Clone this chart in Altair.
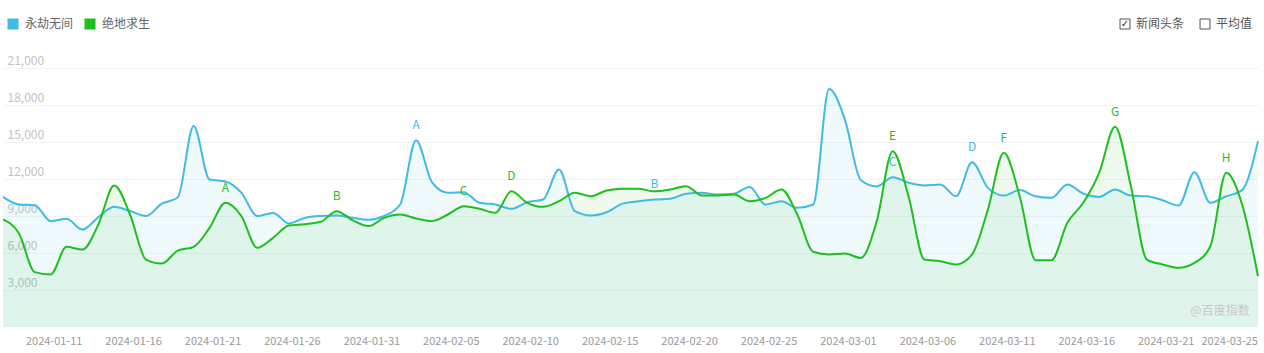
import altair as alt
import pandas as pd

FONT = "Noto Sans CJK SC"

series_names = ["永劫无间", "绝地求生"]
series_colors = ["#3fbbe4", "#1fbf1f"]

dates = [d.strftime("%Y-%m-%d") for d in pd.date_range("2024-01-08", "2024-03-27", freq="D")]

blue = [10550, 9930, 9880, 8580, 8770, 7900, 8900, 9740, 9400, 9000,
        10000, 10500, 16300, 11960, 11800, 10900, 9000, 9250, 8400, 8850,
        9000, 9040, 8850, 8700, 9000, 9930, 15150, 11740, 10880, 10930,
        10070, 9930, 9580, 10120, 10340, 12770, 9390, 9040, 9300, 10000,
        10200, 10340, 10400, 10800, 10880, 10740, 10800, 11360, 9930, 10200,
        9660, 9930, 19300, 16800, 11900, 11400, 12150, 11700, 11470, 11550,
        10600, 13360, 11280, 10660, 11100, 10600, 10470, 11550, 10820, 10550,
        11150, 10660, 10600, 10280, 9850, 12550, 10070, 10600, 11100, 15070]

green = [8720, 7600, 4450, 4260, 6500, 6280, 8300, 11470, 9100, 5470,
         5150, 6200, 6500, 8040, 10070, 9000, 6420, 7230, 8230, 8340,
         8530, 9390, 8660, 8180, 8850, 9120, 8800, 8580, 9120, 9800,
         9580, 9260, 11010, 10070, 9740, 10200, 10880, 10600, 11070, 11200,
         11200, 11000, 11150, 11420, 10660, 10660, 10740, 10200, 10470, 11150,
         9120, 6100, 5880, 5960, 5600, 8580, 14260, 10600, 5470, 5340,
         5070, 5880, 9530, 14120, 10600, 5420, 5420, 8450, 10070, 12500,
         16230, 11420, 5470, 5070, 4800, 5200, 6550, 12500, 9930, 4120]

tick_labels = ["2024-01-11", "2024-01-16", "2024-01-21", "2024-01-26", "2024-01-31",
               "2024-02-05", "2024-02-10", "2024-02-15", "2024-02-20", "2024-02-25",
               "2024-03-01", "2024-03-06", "2024-03-11", "2024-03-16", "2024-03-21",
               "2024-03-25"]
y_ticks = [3000, 6000, 9000, 12000, 15000, 18000, 21000]

ann_blue_dates = ["2024-02-03", "2024-02-18", "2024-03-04", "2024-03-09"]
ann_blue_letters = ["A", "B", "C", "D"]
ann_green_dates = ["2024-01-22", "2024-01-29", "2024-02-06", "2024-02-09",
                   "2024-03-04", "2024-03-11", "2024-03-18", "2024-03-25"]
ann_green_letters = ["A", "B", "C", "D", "E", "F", "G", "H"]

df = pd.DataFrame({
    "date": dates + dates,
    "series": [series_names[0]] * len(dates) + [series_names[1]] * len(dates),
    "value": blue + green,
})

ann = pd.DataFrame({
    "date": ann_blue_dates + ann_green_dates,
    "series": [series_names[0]] * len(ann_blue_dates) + [series_names[1]] * len(ann_green_dates),
    "letter": ann_blue_letters + ann_green_letters,
})
ann = ann.merge(df, on=["date", "series"], how="left")

cscale = alt.Scale(domain=series_names, range=series_colors)
xscale = alt.Scale(type="point", padding=0, domain=dates)

x_enc = alt.X("date:O", scale=xscale, title=None,
              axis=alt.Axis(values=tick_labels, labelAngle=0, labelFont=FONT,
                            labelFontSize=11, labelColor="#9a9a9a", labelPadding=8,
                            labelOffset=3, domain=False, ticks=False, grid=False,
                            labelOverlap=False, labelFlush=False, labelBound=False))
y_enc = alt.Y("value:Q", stack=None, title=None,
              scale=alt.Scale(domain=[0, 21000], nice=False, zero=True),
              axis=alt.Axis(values=y_ticks, format=",d", labelFont=FONT, labelFontSize=12,
                            labelColor="#c2c2c2", labelAlign="left", labelBaseline="bottom",
                            labelPadding=-4, labelOffset=-1, tickSize=0, ticks=False,
                            domain=False, grid=True, gridColor="#f2f2f2", gridWidth=1))

base = alt.Chart(df)

area = base.mark_area(interpolate="monotone", opacity=0.08).encode(
    x=x_enc, y=y_enc,
    color=alt.Color("series:N", scale=cscale, sort=series_names,
                    legend=alt.Legend(orient="none", legendX=4, legendY=-50,
                                      direction="horizontal", title=None,
                                      symbolType="square", symbolSize=121,
                                      symbolOpacity=1, symbolStrokeWidth=0,
                                      labelFont=FONT, labelFontSize=12,
                                      labelColor="#666666", columnPadding=10,
                                      labelOffset=6, padding=0)),
)

line = base.mark_line(interpolate="monotone", strokeWidth=2).encode(
    x=x_enc, y=y_enc,
    color=alt.Color("series:N", scale=cscale, sort=series_names, legend=None),
)

letters = alt.Chart(ann).mark_text(dy=-15, fontSize=12, font=FONT, baseline="middle").encode(
    x=x_enc, y=y_enc, text="letter:N",
    color=alt.Color("series:N", scale=cscale, sort=series_names, legend=None),
)

one = pd.DataFrame({"k": [0]})

def box(x0, checked, label):
    layers = [
        alt.Chart(one).mark_rect(fill="white", stroke="#555555", strokeWidth=1).encode(
            x=alt.value(x0), x2=alt.value(x0 + 10), y=alt.value(-49), y2=alt.value(-39)),
        alt.Chart(one).mark_text(align="left", baseline="middle", font=FONT, fontSize=12,
                                 color="#555555", text=label).encode(
            x=alt.value(x0 + 16), y=alt.value(-44)),
    ]
    if checked:
        layers.append(alt.Chart(one).mark_text(align="center", baseline="middle",
                                               font="DejaVu Sans", fontSize=10,
                                               color="#333333", text="✓").encode(
            x=alt.value(x0 + 5), y=alt.value(-44)))
    return layers

watermark = alt.Chart(one).mark_text(align="center", baseline="middle", font=FONT,
                                     fontSize=12, color="#c8c8c8", text="@百度指数").encode(
    x=alt.value(1217), y=alt.value(243))

chart = alt.layer(
    area, line, letters, watermark,
    *box(1117, True, "新闻头条"),
    *box(1197, False, "平均值"),
).properties(
    width=1255, height=259,
    autosize=alt.AutoSizeParams(type="none"),
    padding={"left": 3, "top": 68, "right": 6, "bottom": 26},
    background="white",
).configure_view(stroke="transparent")

chart.save("out.html", embed_options={"renderer": "svg", "actions": False})
